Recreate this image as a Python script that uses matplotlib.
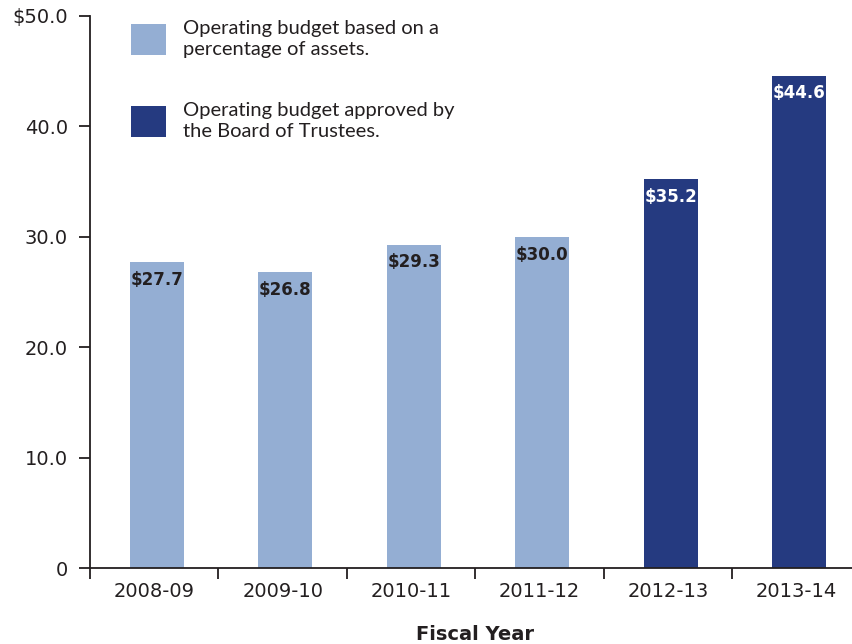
import numpy as np
import matplotlib.pyplot as plt
from matplotlib.patches import Patch
from matplotlib.ticker import FuncFormatter, FixedLocator

years = ['2008-09', '2009-10', '2010-11', '2011-12', '2012-13', '2013-14']
budget = [27.7, 26.8, 29.3, 30.0, 35.2, 44.6]
approved = [False, False, False, False, True, True]
legend_labels = ['Operating budget based on a\npercentage of assets.',
                 'Operating budget approved by\nthe Board of Trustees.']

light = '#94aed3'
dark = '#253a80'
txt = '#231f20'

fig = plt.figure(figsize=(8.53, 6.44), dpi=100)
ax = fig.add_axes([90/853, 76/644, 771/853, 552/644])

x = np.arange(len(years))
colors = [dark if a else light for a in approved]
bars = ax.bar(x + 0.02, budget, width=0.42, color=colors)

# value labels just inside the top of each bar
for xi, v, a in zip(x, budget, approved):
    ax.text(xi + 0.02, v - 0.8, f'${v:.1f}', ha='center', va='top', fontsize=12,
            fontweight='bold', family='DejaVu Sans', color='white' if a else txt)

ax.set_xlim(-0.5, 5.5)
ax.set_ylim(0, 50)
ax.set_yticks(np.arange(0, 51, 10))

def yfmt(v, pos):
    if v == 0:
        return '0'
    if v == 50:
        return f'${v:.1f}'
    return f'{v:.1f}'

ax.yaxis.set_major_formatter(FuncFormatter(yfmt))
ax.set_xticks(x)
ax.set_xticklabels(years)
ax.xaxis.set_minor_locator(FixedLocator(np.arange(-0.5, 6, 1)))
ax.tick_params(axis='x', which='major', length=0, pad=10, labelsize=14, labelcolor=txt)
ax.tick_params(axis='x', which='minor', length=8, width=1.3, color=txt, direction='out')
ax.tick_params(axis='y', length=8, width=1.3, color=txt, pad=8, labelsize=14, labelcolor=txt)

for s in ['top', 'right']:
    ax.spines[s].set_visible(False)
for s in ['left', 'bottom']:
    ax.spines[s].set_linewidth(1.3)
    ax.spines[s].set_color(txt)

ax.set_xlabel('Fiscal Year', fontsize=14, fontweight='bold', color=txt, labelpad=17)

handles = [Patch(facecolor=light), Patch(facecolor=dark)]
leg = ax.legend(handles, legend_labels, loc='upper left', bbox_to_anchor=(0.03, 1.025),
                frameon=False, handlelength=1.75, handleheight=2.0,
                handletextpad=0.8, labelspacing=2.2, prop={'family': 'Lato', 'size': 14.5})
for t in leg.get_texts():
    t.set_color(txt)
    t.set_linespacing(1.25)

fig.savefig('out.png', dpi=100)
